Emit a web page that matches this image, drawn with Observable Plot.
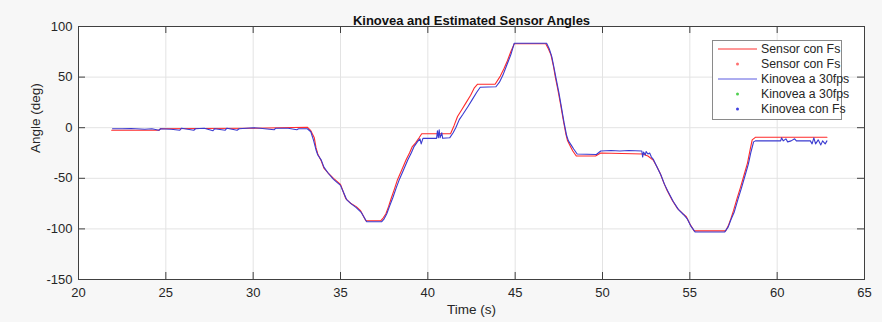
<!DOCTYPE html>
<html><head><meta charset="utf-8">
<script src="https://cdn.jsdelivr.net/npm/d3@7"></script>
<script src="https://cdn.jsdelivr.net/npm/@observablehq/plot@0.6"></script>
<style>
html,body{margin:0;padding:0;background:#f7f7f7;}
#wrap{position:relative;width:882px;height:322px;font-family:"Liberation Sans",Arial,Helvetica,sans-serif;}
#legend{position:absolute;left:0;top:0;}
</style></head>
<body><div id="wrap"></div>
<script>
const titleText = "Kinovea and Estimated Sensor Angles";
const xLabel = "Time (s)";
const yLabel = "Angle (deg)";
const xTicks = [20, 25, 30, 35, 40, 45, 50, 55, 60, 65];
const yTicks = [-150, -100, -50, 0, 50, 100];
const legendLabels = ["Sensor con Fs", "Sensor con Fs", "Kinovea a 30fps", "Kinovea a 30fps", "Kinovea con Fs"];
const legendKinds = ["line", "dot", "line", "dot", "dot"];
const legendColors = ["#ff3030", "#ff7070", "#5a5ae0", "#50d050", "#4040e0"];

const sensorTime = [21.9,24.6,24.7,27,30,31.5,33.1,33.3,33.5,33.6,33.7,33.9,34.05,34.3,34.6,35.0,35.15,35.3,35.6,35.9,36.15,36.3,36.45,37.3,37.45,37.6,37.75,37.9,38.1,38.25,38.5,38.75,38.95,39.1,39.3,39.5,39.65,41.3,41.5,41.7,41.95,42.2,42.45,42.65,42.85,43.85,44.15,44.35,44.55,44.75,44.95,46.75,46.9,47.05,47.2,47.3,47.45,47.6,47.75,47.9,48.0,48.15,48.3,48.5,49.6,49.9,52.3,52.6,52.9,53.1,53.3,53.5,53.7,54.0,54.3,54.6,54.8,55.0,55.25,57.05,57.2,57.35,57.5,57.7,57.9,58.1,58.3,58.45,58.57,58.75,62.85];
const sensorAngle = [-2.5,-2.5,-1,-0.8,-0.5,0,0.5,-3,-10,-20,-26,-33,-40,-45,-50,-56,-63,-70,-75,-78,-82,-87,-92,-92,-89,-85,-78,-70,-60,-52,-42,-32,-25,-19,-15,-10,-6,-6,2,11,18,25,32,39,43,43,51,58,66,75,83,83,78,72,60,50,37,23,8,-6,-13,-18,-23,-28,-28,-25,-26,-28,-32,-38,-45,-54,-62,-72,-80,-85,-88,-95,-102,-102,-97,-90,-82,-70,-59,-47,-35,-22,-12,-9.5,-9.5];

const kinoveaTime = [21.95,22.5,23,23.8,24.2,24.6,24.7,25.3,25.8,25.9,26.6,26.7,27.2,27.7,27.8,28.4,28.5,29.08,29.2,30.0,30.4,31.2,31.3,32.0,32.5,32.6,33.1,33.3,33.45,33.6,33.7,33.9,34.05,34.3,34.6,35.0,35.2,35.35,35.6,35.9,36.2,36.4,36.5,37.35,37.5,37.65,37.8,38.0,38.2,38.35,38.6,38.85,39.05,39.2,39.4,39.55,39.62,39.72,40.5,40.55,40.6,40.65,40.7,40.8,40.85,41.25,41.45,41.6,41.8,42.0,42.3,42.55,42.8,43.0,43.9,44.1,44.3,44.5,44.75,44.95,46.8,46.95,47.1,47.25,47.35,47.5,47.65,47.8,47.95,48.05,48.2,48.35,48.55,49.65,49.9,50.5,51.0,51.5,52.25,52.3,52.35,52.45,52.5,52.6,52.7,52.8,52.9,53.1,53.35,53.55,53.75,54.05,54.35,54.65,54.85,55.05,55.3,57.0,57.2,57.35,57.55,57.75,57.95,58.15,58.35,58.5,58.65,58.75,60.2,60.25,60.35,60.5,60.6,60.8,61.0,61.1,61.9,62.0,62.1,62.2,62.35,62.5,62.6,62.75,62.85];
const kinoveaAngle = [-1,-1,-0.8,-1.5,-1,-2.5,-1,-1.5,-2.5,-0.5,-2.5,-1,-0.5,-3,-1,-2.5,-0.5,-2.5,-1,0,-0.5,-2,-0.5,-0.5,-2,-1,-1,-4,-12,-22,-27,-32,-39,-45,-51,-57,-65,-71,-75,-79,-84,-90,-93,-93,-90,-85,-78,-69,-59,-52,-42,-32,-25,-19,-14,-11,-16,-10.5,-10.5,-3,-10,-2,-10,-5,-10.5,-10,-5,0,8,13,21,28,35,40,40.5,45,52,61,72,83.5,83.5,78,70,57,48,35,20,5,-8,-13,-17,-21,-26,-26.5,-23,-22.5,-23,-22.5,-23,-29,-24,-27,-23.5,-26,-25,-29,-31,-38,-47,-56,-63,-73,-81,-86,-90,-97,-103,-103,-98,-91,-83,-71,-60,-48,-36,-24,-14,-13,-13,-10,-13,-11,-14,-13,-11,-13,-13,-16,-10,-16,-12,-17,-13,-16,-13];

const sensor = sensorTime.map((t, i) => ({t, v: sensorAngle[i]}));
const kinovea = kinoveaTime.map((t, i) => ({t, v: kinoveaAngle[i]}));

const W = 882, H = 322, mL = 78, mR = 18, mT = 26, mB = 43;
const fw = W - mL - mR, fh = H - mT - mB;
const axisColor = "#404040";
const font = "'Liberation Sans', Arial, Helvetica, sans-serif";

const chart = Plot.plot({
  width: W, height: H,
  marginLeft: mL, marginRight: mR, marginTop: mT, marginBottom: mB,
  style: {background: "transparent", fontFamily: font, fontSize: "13px", color: "#262626"},
  x: {domain: [20, 65]},
  y: {domain: [-150, 100]},
  marks: [
    Plot.frame({fill: "white", stroke: null}),
    Plot.gridX(xTicks, {stroke: "#e3e3e3", strokeOpacity: 1}),
    Plot.gridY(yTicks, {stroke: "#e3e3e3", strokeOpacity: 1}),
    Plot.line(sensor, {x: "t", y: "v", stroke: "#ff2a2a", strokeWidth: 1.1}),
    Plot.line(kinovea, {x: "t", y: "v", stroke: "#3a3ad0", strokeWidth: 1.1}),
    Plot.frame({stroke: axisColor}),
    Plot.ruleX(xTicks, {x: d => d, insetTop: fh - 7, stroke: axisColor}),
    Plot.ruleX(xTicks, {x: d => d, insetBottom: fh - 7, stroke: axisColor}),
    Plot.ruleY(yTicks, {y: d => d, insetRight: fw - 7, stroke: axisColor}),
    Plot.ruleY(yTicks, {y: d => d, insetLeft: fw - 7, stroke: axisColor}),
    Plot.axisX(xTicks, {tickSize: 0, tickPadding: 8, label: null, fontSize: 13, fill: "#262626", tickFormat: d => String(d)}),
    Plot.axisY(yTicks, {tickSize: 0, tickPadding: 6, label: null, fontSize: 13, fill: "#262626", tickFormat: d => String(d)}),
    Plot.text([titleText], {frameAnchor: "top", dy: -11, fontWeight: "bold", fontSize: 13, fill: "#111"}),
    Plot.text([xLabel], {frameAnchor: "bottom", dy: 34, fontSize: 13.5, fill: "#262626"}),
    Plot.text([yLabel], {frameAnchor: "left", dx: -43, rotate: -90, fontSize: 13.5, fill: "#262626"})
  ]
});
const wrap = document.getElementById("wrap");
wrap.appendChild(chart);

// legend
const lg = d3.select(wrap).append("svg").attr("id", "legend")
  .attr("width", W).attr("height", H).style("font-family", font);
lg.append("rect").attr("x", 712.5).attr("y", 40.5).attr("width", 129).attr("height", 79)
  .attr("fill", "white").attr("stroke", "#8a8a8a");
legendLabels.forEach((lab, i) => {
  const cy = 49 + i * 15;
  if (legendKinds[i] === "line") {
    lg.append("line").attr("x1", 718).attr("x2", 757).attr("y1", cy).attr("y2", cy)
      .attr("stroke", legendColors[i]).attr("stroke-width", 1);
  } else {
    lg.append("circle").attr("cx", 737.5).attr("cy", cy).attr("r", 1.5).attr("fill", legendColors[i]);
  }
  lg.append("text").attr("x", 761).attr("y", cy).attr("dy", "0.35em")
    .attr("font-size", 12.3).attr("fill", "#262626").text(lab);
});
</script></body></html>
